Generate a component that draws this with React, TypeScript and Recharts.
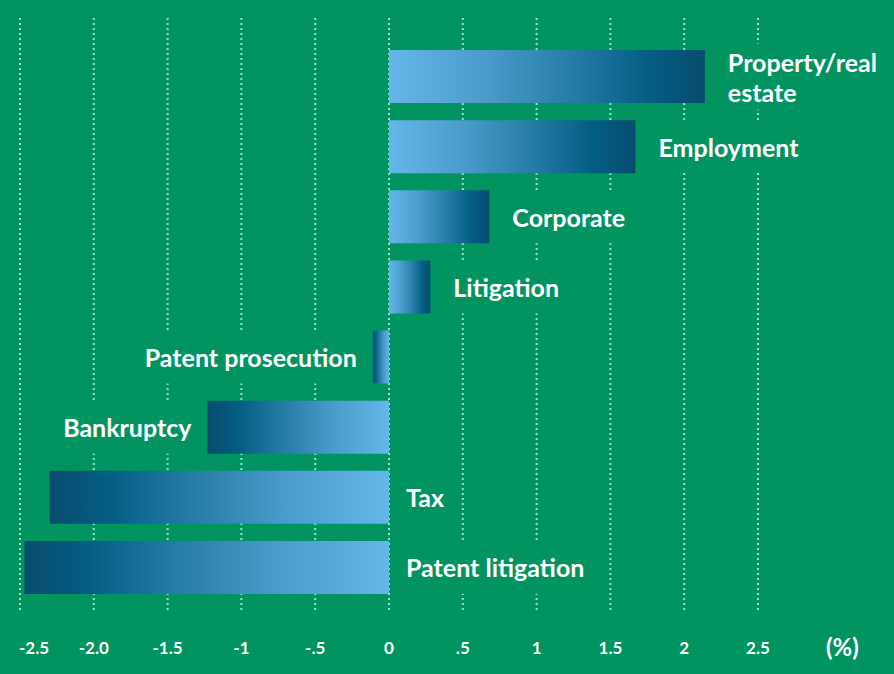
import { Bar, BarChart, CartesianGrid, Cell, LabelList, XAxis, YAxis } from 'recharts'

const categories = [
  'Property/real estate',
  'Employment',
  'Corporate',
  'Litigation',
  'Patent prosecution',
  'Bankruptcy',
  'Tax',
  'Patent litigation',
]
const changes = [2.14, 1.67, 0.68, 0.28, -0.11, -1.23, -2.3, -2.47]
const ticks = [-2.5, -2, -1.5, -1, -0.5, 0, 0.5, 1, 1.5, 2, 2.5]
const tickLabels = ['-2.5', '-2.0', '-1.5', '-1', '-.5', '0', '.5', '1', '1.5', '2', '2.5']
// long negative bars carry their label on the right of zero
const labelRightOfZero = ['Tax', 'Patent litigation']

const data = categories.map((name, i) => ({ name, value: changes[i] }))

const BG = '#019461'
const FONT = 'Lato, "Open Sans", sans-serif'
const LABEL_SIZE = 25
const W = 894
const H = 674

let ctx: CanvasRenderingContext2D | null = null
function measure(text: string) {
  if (!ctx) ctx = document.createElement('canvas').getContext('2d')
  if (!ctx) return text.length * LABEL_SIZE * 0.55
  ctx.font = `bold ${LABEL_SIZE}px ${FONT}`
  return ctx.measureText(text).width
}

function wrap(text: string, maxW: number) {
  const words = text.split(' ')
  const lines: string[] = []
  let cur = ''
  for (const w of words) {
    const next = cur ? `${cur} ${w}` : w
    if (cur && measure(next) > maxW) {
      lines.push(cur)
      cur = w
    } else cur = next
  }
  if (cur) lines.push(cur)
  return lines
}

function BarLabel(props: any) {
  const { x, y, width, height, index, zeroX } = props
  const name = categories[index]
  const v = changes[index]
  const left = Math.min(x, x + width)
  const right = Math.max(x, x + width)
  let tx: number
  let anchor: 'start' | 'end'
  if (v >= 0) {
    tx = right + 23
    anchor = 'start'
  } else if (labelRightOfZero.includes(name)) {
    tx = zeroX + 17
    anchor = 'start'
  } else {
    tx = left - 16
    anchor = 'end'
  }
  const maxW = anchor === 'start' ? W - tx - 8 : tx - 10
  const lines = wrap(name, maxW)
  const lineH = 30
  const cy = y + height / 2
  const textW = Math.max(...lines.map(measure))
  const boxX = anchor === 'start' ? tx - 6 : tx - textW - 6
  const boxH = Math.max(height, lines.length * lineH + 6)
  const firstY = cy + 10 - ((lines.length - 1) / 2) * lineH
  return (
    <g>
      <rect x={boxX} y={cy - boxH / 2} width={textW + 12} height={boxH} fill={BG} />
      <text
        x={tx}
        y={firstY}
        textAnchor={anchor}
        fill="#ffffff"
        fontFamily={FONT}
        fontWeight={700}
        fontSize={LABEL_SIZE}
      >
        {lines.map((ln, i) => (
          <tspan key={ln} x={tx} dy={i === 0 ? 0 : lineH}>
            {ln}
          </tspan>
        ))}
      </text>
    </g>
  )
}

function AxisTick(props: any) {
  const { x, y, payload, index } = props
  const first = index === 0
  return (
    <text
      x={first ? x - 1 : x}
      y={y + 36}
      textAnchor={first ? 'start' : 'middle'}
      fill="#ffffff"
      fontFamily={FONT}
      fontWeight={700}
      fontSize={17}
    >
      {tickLabels[ticks.indexOf(payload.value)]}
    </text>
  )
}

export default function App() {
  const margin = { top: 18, right: 136, left: 20, bottom: 0 }
  const plotW = W - margin.left - margin.right
  const zeroX = margin.left + (plotW * 2.5) / 5

  return (
    <div style={{ position: 'absolute', left: 0, top: 0, width: W, height: H, background: BG }}>
      <BarChart width={W} height={H} data={data} layout="vertical" margin={margin}>
        <defs>
          <linearGradient id="gradPos" x1="0" y1="0" x2="1" y2="0">
            <stop offset="0%" stopColor="#64b7e9" />
            <stop offset="30%" stopColor="#4a9ccc" />
            <stop offset="60%" stopColor="#237aa3" />
            <stop offset="82%" stopColor="#045e84" />
            <stop offset="100%" stopColor="#084c6e" />
          </linearGradient>
          <linearGradient id="gradNeg" x1="1" y1="0" x2="0" y2="0">
            <stop offset="0%" stopColor="#64b7e9" />
            <stop offset="30%" stopColor="#4a9ccc" />
            <stop offset="60%" stopColor="#237aa3" />
            <stop offset="82%" stopColor="#045e84" />
            <stop offset="100%" stopColor="#084c6e" />
          </linearGradient>
        </defs>
        <CartesianGrid horizontal={false} stroke="#8fe4d3" strokeWidth={2} strokeDasharray="2 3" />
        <XAxis
          type="number"
          domain={[-2.5, 2.5]}
          ticks={ticks}
          axisLine={false}
          tickLine={false}
          height={64}
          tick={<AxisTick />}
          interval={0}
        />
        <YAxis type="category" dataKey="name" hide width={0} padding={{ top: 23, bottom: 8 }} />
        <Bar dataKey="value" barSize={53} isAnimationActive={false}>
          {data.map((d) => (
            <Cell key={d.name} fill={d.value >= 0 ? 'url(#gradPos)' : 'url(#gradNeg)'} />
          ))}
          <LabelList dataKey="name" content={(p: any) => <BarLabel {...p} zeroX={zeroX} />} />
        </Bar>
      </BarChart>
      <div
        style={{
          position: 'absolute',
          left: 826,
          top: 632,
          color: '#ffffff',
          fontFamily: FONT,
          fontWeight: 700,
          fontSize: 24,
          lineHeight: '30px',
        }}
      >
        (%)
      </div>
    </div>
  )
}
